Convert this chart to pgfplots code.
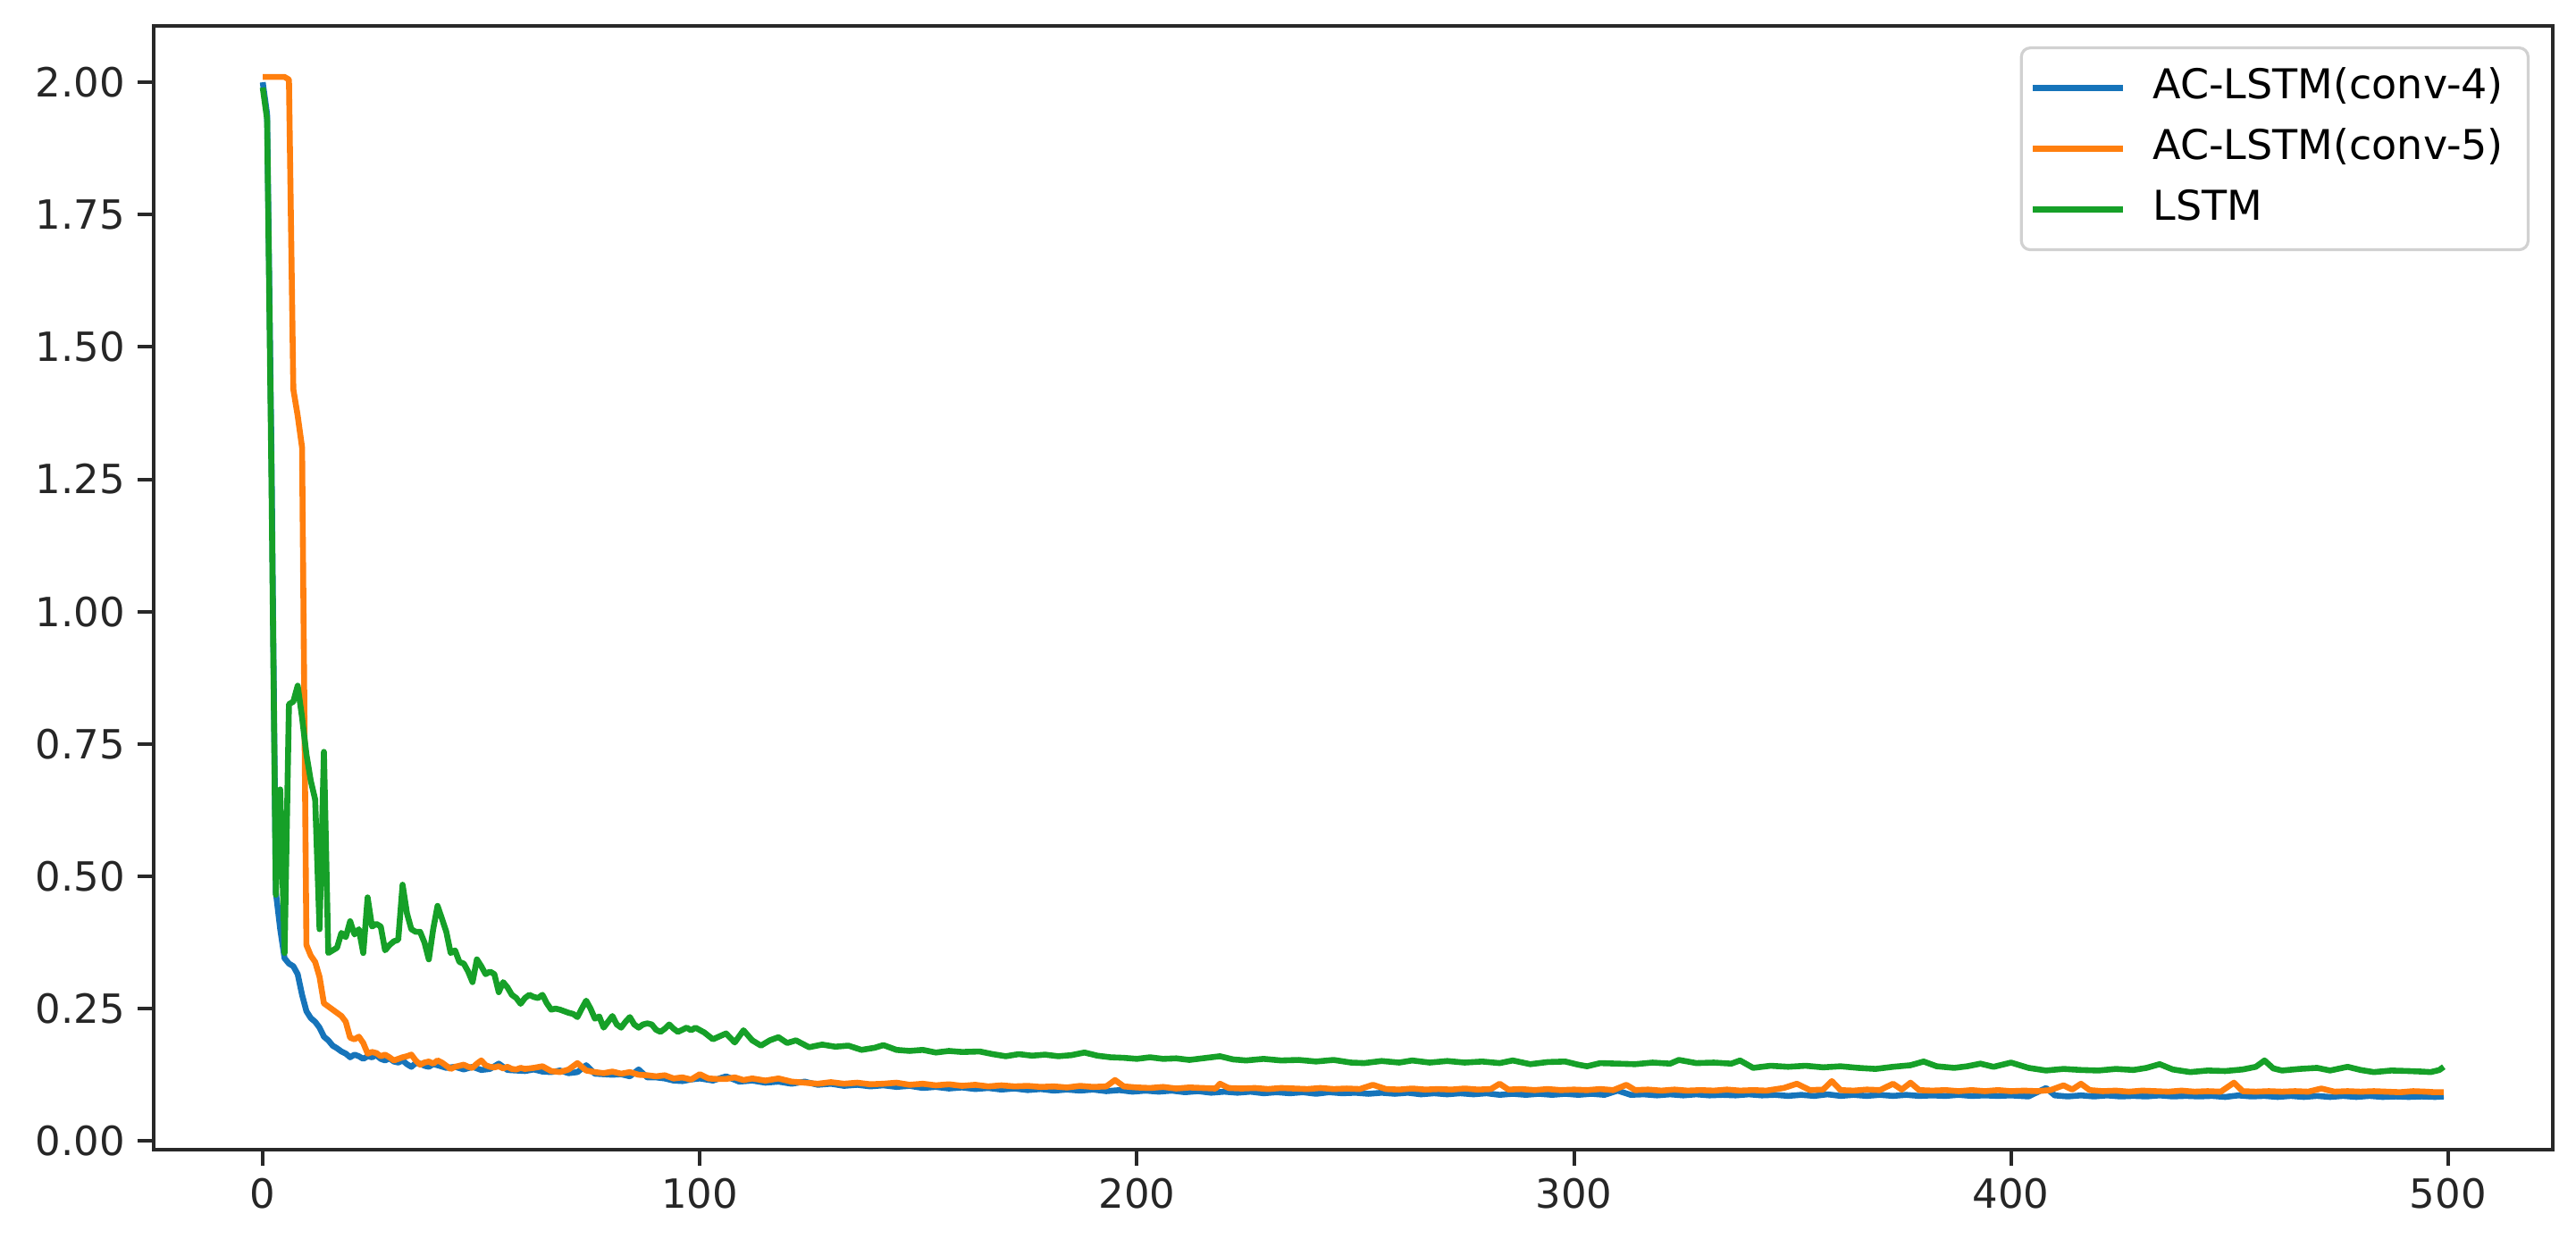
\documentclass[border=0pt]{standalone}
\usepackage{fontspec}
\setmainfont{DejaVu Sans}
\usepackage{pgfplots}
\pgfplotsset{compat=1.18}
\definecolor{cblue}{RGB}{22,116,186}
\definecolor{corange}{RGB}{255,127,14}
\definecolor{cgreen}{RGB}{22,160,40}
\definecolor{frame}{RGB}{40,40,40}
\begin{document}
\begin{tikzpicture}
\begin{axis}[
  scale only axis,
  width=671.25pt, height=314.5pt,
  xmin=-24.95, xmax=523.95,
  ymin=-0.0165, ymax=2.1065,
  xtick={0,100,200,300,400,500},
  ytick={0,0.25,0.5,0.75,1,1.25,1.5,1.75,2},
  yticklabel style={/pgf/number format/.cd,fixed,fixed zerofill,precision=2},
  /pgf/number format/assume math mode=true,
  tick label style={font=\fontsize{11.25pt}{13.5pt}\selectfont, text=black!85},
  xtick pos=bottom, ytick pos=left,
  tick align=outside,
  major tick length=4.5pt,
  every tick/.style={frame, line width=1pt},
  axis line style={frame, line width=1pt},
  legend cell align=left,
  legend style={at={(1,1)}, anchor=north east, xshift=-6.5pt, yshift=-5.75pt,
    draw=black!18, line width=0.8pt, rounded corners=2.5pt, fill=white,
    font=\fontsize{11.5pt}{13.8pt}\selectfont,
    inner xsep=2.4pt, inner ysep=4.25pt, row sep=3pt,
    nodes={inner xsep=4.5pt, inner ysep=1pt, text height=9pt, text depth=3pt}},
  legend image code/.code={\draw[#1, line width=1.65pt] (0pt,0pt) -- (25.25pt,0pt); \path (28.25pt,0pt);},
  every axis plot/.append style={line width=1.65pt, line join=round},
]
\coordinate (SW) at (rel axis cs:0,0);
\coordinate (NE) at (rel axis cs:1,1);
% AC-LSTM(conv-4)
\addplot[cblue, no marks] table {
0 2.00
1 1.94
2 1.30
3 0.47
4 0.40
5 0.345
6 0.335
7 0.33
8 0.315
9 0.276
10 0.245
11 0.232
12 0.225
13 0.214
14 0.197
15 0.19
16 0.18
17 0.175
18 0.169
19 0.165
20 0.158
21 0.163
22 0.16
23 0.155
24 0.16
25 0.158
26 0.162
27 0.155
28 0.152
29 0.156
30 0.15
31 0.148
32 0.152
33 0.145
34 0.14
35 0.147
36 0.146
37 0.142
38 0.14
39 0.145
40 0.143
42 0.138
44 0.14
46 0.135
48 0.14
50 0.134
52 0.136
54 0.146
56 0.134
58 0.133
60 0.132
62 0.135
64 0.131
66 0.13
68 0.133
70 0.128
72 0.13
74 0.143
76 0.127
78 0.126
80 0.125
82 0.126
84 0.122
86 0.135
88 0.12
90 0.12
92 0.118
94 0.114
96 0.113
98 0.116
100 0.118
103 0.114
106 0.122
109 0.112
112 0.114
115 0.11
118 0.112
121 0.108
124 0.112
127 0.106
130 0.108
133 0.104
136 0.106
139 0.103
142 0.105
145 0.102
148 0.104
151 0.1
154 0.102
157 0.099
160 0.101
163 0.098
166 0.1
169 0.097
172 0.099
175 0.096
178 0.098
181 0.095
184 0.097
187 0.095
190 0.097
193 0.094
196 0.096
199 0.093
202 0.095
205 0.093
208 0.095
211 0.092
214 0.094
217 0.091
220 0.093
223 0.091
226 0.093
229 0.09
232 0.092
235 0.09
238 0.092
241 0.089
244 0.092
247 0.09
250 0.091
253 0.089
256 0.091
259 0.089
262 0.091
265 0.088
268 0.09
271 0.088
274 0.09
277 0.088
280 0.09
283 0.087
286 0.089
289 0.087
292 0.089
295 0.087
298 0.089
301 0.087
304 0.089
307 0.087
310 0.095
313 0.087
316 0.088
319 0.086
322 0.088
325 0.086
328 0.088
331 0.086
334 0.087
337 0.086
340 0.088
343 0.086
346 0.087
349 0.085
352 0.087
355 0.085
358 0.088
361 0.085
364 0.087
367 0.085
370 0.087
373 0.085
376 0.087
379 0.085
382 0.086
385 0.085
388 0.087
391 0.085
394 0.086
397 0.085
400 0.086
404 0.084
408 0.1
410 0.086
413 0.084
416 0.086
419 0.084
422 0.086
425 0.084
428 0.085
431 0.084
434 0.086
437 0.084
440 0.085
443 0.084
446 0.085
449 0.083
452 0.086
455 0.084
458 0.085
461 0.083
464 0.085
467 0.083
470 0.085
473 0.083
476 0.085
479 0.083
482 0.085
485 0.083
488 0.084
491 0.083
494 0.084
497 0.083
499 0.084
};
\addlegendentry{AC-LSTM(conv-4)}
% AC-LSTM(conv-5)
\addplot[corange, no marks] table {
0 2.01
1 2.01
2 2.01
3 2.01
4 2.01
5 2.01
6 2.005
7 1.42
8 1.37
9 1.31
10 0.37
11 0.35
12 0.338
13 0.31
14 0.26
15 0.254
16 0.248
17 0.242
18 0.236
19 0.225
20 0.195
21 0.192
22 0.197
23 0.185
24 0.165
25 0.168
26 0.166
27 0.16
28 0.163
29 0.158
30 0.152
31 0.155
32 0.158
33 0.16
34 0.163
35 0.152
36 0.144
37 0.148
38 0.15
39 0.146
40 0.152
41 0.148
42 0.142
43 0.136
44 0.14
45 0.142
46 0.144
47 0.14
48 0.138
49 0.146
50 0.152
51 0.143
52 0.14
53 0.139
54 0.141
55 0.137
56 0.14
57 0.136
58 0.135
59 0.138
60 0.136
62 0.138
64 0.141
66 0.132
68 0.13
70 0.135
72 0.147
74 0.133
76 0.13
78 0.128
80 0.131
82 0.127
84 0.13
86 0.125
88 0.124
90 0.122
92 0.124
94 0.118
96 0.12
98 0.116
100 0.126
102 0.118
104 0.117
106 0.117
108 0.12
110 0.115
112 0.118
115 0.114
118 0.118
121 0.112
124 0.11
127 0.108
130 0.111
133 0.108
136 0.11
139 0.107
142 0.108
145 0.11
148 0.106
151 0.108
154 0.105
157 0.107
160 0.104
163 0.106
166 0.103
169 0.105
172 0.103
175 0.104
178 0.102
181 0.103
184 0.101
187 0.104
190 0.102
193 0.103
195 0.115
197 0.103
200 0.101
203 0.1
206 0.102
209 0.099
212 0.101
215 0.1
218 0.099
219 0.108
221 0.1
224 0.099
227 0.1
230 0.098
233 0.1
236 0.099
239 0.098
242 0.1
245 0.098
248 0.099
251 0.098
254 0.106
257 0.098
260 0.097
263 0.099
266 0.097
269 0.098
272 0.097
275 0.099
278 0.097
281 0.098
283 0.108
285 0.097
288 0.098
291 0.096
294 0.098
297 0.096
300 0.097
303 0.096
306 0.098
309 0.096
312 0.106
314 0.096
317 0.097
320 0.095
323 0.097
326 0.095
329 0.096
332 0.095
335 0.097
338 0.095
341 0.096
344 0.095
348 0.1
351 0.108
354 0.096
357 0.097
359 0.113
361 0.096
364 0.095
367 0.097
370 0.096
373 0.108
375 0.097
377 0.11
379 0.096
382 0.095
385 0.096
388 0.094
391 0.096
394 0.094
397 0.096
400 0.094
403 0.095
406 0.094
409 0.096
412 0.105
414 0.097
416 0.108
418 0.096
421 0.094
424 0.095
427 0.093
430 0.095
433 0.094
436 0.093
439 0.095
442 0.093
445 0.094
448 0.093
451 0.11
453 0.094
456 0.093
459 0.094
462 0.093
465 0.094
468 0.093
471 0.099
474 0.093
477 0.094
480 0.093
483 0.094
486 0.093
489 0.092
492 0.094
495 0.093
497 0.092
499 0.092
};
\addlegendentry{AC-LSTM(conv-5)}
% LSTM
\addplot[cgreen, no marks] table {
0 1.99
1 1.93
2 1.25
3 0.465
4 0.664
5 0.355
6 0.825
7 0.83
8 0.86
9 0.80
10 0.73
11 0.68
12 0.645
13 0.40
14 0.735
15 0.355
16 0.36
17 0.365
18 0.393
19 0.385
20 0.415
21 0.39
22 0.40
23 0.355
24 0.46
25 0.405
26 0.41
27 0.405
28 0.36
29 0.37
30 0.377
31 0.38
32 0.484
33 0.43
34 0.40
35 0.395
36 0.395
37 0.375
38 0.343
39 0.40
40 0.444
41 0.42
42 0.395
43 0.355
44 0.36
45 0.338
46 0.335
47 0.32
48 0.30
49 0.343
50 0.33
51 0.315
52 0.32
53 0.315
54 0.281
55 0.30
56 0.29
57 0.276
58 0.27
59 0.259
60 0.27
61 0.276
62 0.272
63 0.27
64 0.276
65 0.26
66 0.248
67 0.25
68 0.248
69 0.245
70 0.242
71 0.24
72 0.234
73 0.25
74 0.265
75 0.25
76 0.231
77 0.235
78 0.214
79 0.225
80 0.236
81 0.22
82 0.214
83 0.225
84 0.234
85 0.22
86 0.214
87 0.22
88 0.222
89 0.22
90 0.21
91 0.206
92 0.212
93 0.22
94 0.212
95 0.206
96 0.21
97 0.214
98 0.209
99 0.214
101 0.205
103 0.192
106 0.203
108 0.186
110 0.209
112 0.19
114 0.18
116 0.19
118 0.196
120 0.185
122 0.19
125 0.177
128 0.182
131 0.178
134 0.18
137 0.172
140 0.176
142 0.181
145 0.172
148 0.17
151 0.172
154 0.167
157 0.17
160 0.168
164 0.169
167 0.164
170 0.16
173 0.164
176 0.161
179 0.163
182 0.16
185 0.162
188 0.167
191 0.161
194 0.158
197 0.157
200 0.155
203 0.158
206 0.155
209 0.156
212 0.153
215 0.156
219 0.16
222 0.154
225 0.152
229 0.155
233 0.152
237 0.153
241 0.15
245 0.153
249 0.148
252 0.147
256 0.151
260 0.148
263 0.152
267 0.148
271 0.151
275 0.148
279 0.15
283 0.147
286 0.152
290 0.145
294 0.149
298 0.15
301 0.144
303 0.141
306 0.147
310 0.146
314 0.145
318 0.148
322 0.146
324 0.153
328 0.147
332 0.148
336 0.146
338 0.152
341 0.138
345 0.142
349 0.14
353 0.142
357 0.139
361 0.141
365 0.138
369 0.136
373 0.14
377 0.143
380 0.15
383 0.141
387 0.138
390 0.141
393 0.146
396 0.14
400 0.148
404 0.138
408 0.133
412 0.136
416 0.134
420 0.133
424 0.136
428 0.134
431 0.138
434 0.145
437 0.135
441 0.13
445 0.133
449 0.132
453 0.135
456 0.14
458 0.152
460 0.137
462 0.133
466 0.136
470 0.138
473 0.133
477 0.14
480 0.134
483 0.13
487 0.133
491 0.132
494 0.131
496 0.13
498 0.134
499 0.14
};
\addlegendentry{LSTM}
\end{axis}
\pgfresetboundingbox
\path[use as bounding box] ([xshift=-43pt,yshift=-25pt]SW) rectangle ([xshift=6.5pt,yshift=7.25pt]NE);
\end{tikzpicture}
\end{document}
